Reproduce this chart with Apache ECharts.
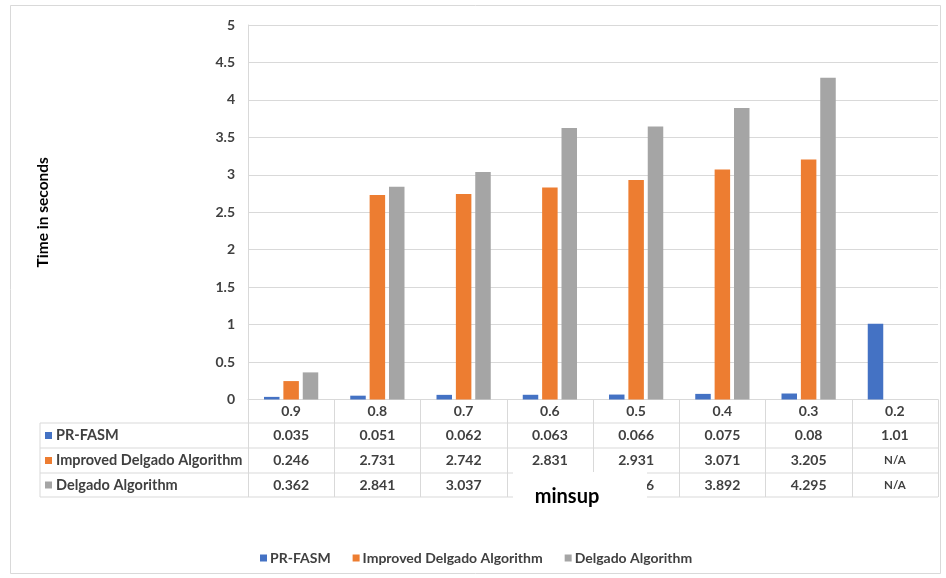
<!DOCTYPE html>
<html>
<head>
<meta charset="utf-8">
<script src="https://cdn.jsdelivr.net/npm/echarts@6/dist/echarts.min.js"></script>
<style>
  html, body { margin: 0; padding: 0; background: #fff; }
  #chart { width: 946px; height: 578px; }
</style>
</head>
<body>
<div id="chart"></div>
<script>
// Run time per minimum support threshold (seconds)
const categories = ['0.9', '0.8', '0.7', '0.6', '0.5', '0.4', '0.3', '0.2'];
const seriesNames = ['PR-FASM', 'Improved Delgado Algorithm', 'Delgado Algorithm'];
const prFasm = [0.035, 0.051, 0.062, 0.063, 0.066, 0.075, 0.08, 1.01];
const improvedDelgado = [0.246, 2.731, 2.742, 2.831, 2.931, 3.071, 3.205, null];
const delgado = [0.362, 2.841, 3.037, 3.624, 3.646, 3.892, 4.295, null];
const yMin = 0, yMax = 5, yStep = 0.5;

const colors = ['#4472C4', '#ED7D31', '#A5A5A5'];
const FONT = 'Lato, "Open Sans", sans-serif';
const LINE = '#D9D9D9';
const TEXT = '#404040';

// grid / table geometry
const G = { left: 248, top: 25, right: 938, bottom: 399.5 };
const rowY = [399.5, 423, 448, 473, 497];   // table row borders
const tableLeft = 40;

const chart = echarts.init(document.getElementById('chart'), null, { renderer: 'canvas' });
const allSeries = [prFasm, improvedDelgado, delgado];

chart.setOption({
  animation: false,
  backgroundColor: '#fff',
  color: colors,
  textStyle: { fontFamily: FONT },
  grid: { left: G.left, top: G.top, width: G.right - G.left, height: G.bottom - G.top, containLabel: false },
  legend: {
    data: seriesNames,
    left: 255, top: 546,
    itemWidth: 7, itemHeight: 7, itemGap: 22,
    icon: 'rect',
    textStyle: { fontFamily: FONT, fontSize: 14, fontWeight: 'bold', color: TEXT, padding: [0, 0, 0, -2] }
  },
  xAxis: {
    type: 'category',
    data: categories,
    axisLine: { show: true, lineStyle: { color: LINE, width: 1 } },
    axisTick: { show: true, interval: 0, length: rowY[4] - rowY[0], lineStyle: { color: LINE } },
    axisLabel: { interval: 0, margin: 5, fontFamily: FONT, fontSize: 14, fontWeight: 'bold', color: TEXT },
    splitLine: { show: false }
  },
  yAxis: {
    type: 'value',
    min: yMin, max: yMax, interval: yStep,
    name: 'Time in seconds',
    nameLocation: 'middle',
    nameGap: 197,
    nameTextStyle: { fontFamily: FONT, fontSize: 15.5, fontWeight: 'bold', color: '#000' },
    axisLine: { show: true, lineStyle: { color: LINE } },
    axisTick: { show: false },
    axisLabel: { margin: 13, fontFamily: FONT, fontSize: 14, fontWeight: 'bold', color: TEXT },
    splitLine: { show: true, lineStyle: { color: LINE, width: 1 } }
  },
  series: seriesNames.map((name, i) => ({
    name: name,
    type: 'bar',
    data: allSeries[i],
    barWidth: 15.5,
    barGap: '25%',
    itemStyle: { color: colors[i] }
  }))
});

// Data table under the x axis, built from the same arrays
const g = [];
const hline = (x1, x2, y) => ({ type: 'line', z: 5, shape: { x1, y1: y, x2, y2: y }, style: { stroke: LINE, lineWidth: 1 } });
const vline = (x, y1, y2) => ({ type: 'line', z: 5, shape: { x1: x, y1, x2: x, y2 }, style: { stroke: LINE, lineWidth: 1 } });

for (let r = 1; r < rowY.length; r++) g.push(hline(tableLeft, G.right, rowY[r]));
g.push(vline(tableLeft, rowY[1], rowY[4]));

seriesNames.forEach((name, i) => {
  const cy = (rowY[i + 1] + rowY[i + 2]) / 2;
  g.push({ type: 'rect', z: 6, shape: { x: 45, y: cy - 3.5, width: 7, height: 7 }, style: { fill: colors[i] } });
  g.push({
    type: 'text', z: 6,
    style: { text: name, x: 56, y: cy, align: 'left', verticalAlign: 'middle',
             fontFamily: FONT, fontSize: 14.5, fontWeight: 'bold', fill: TEXT }
  });
  categories.forEach((c, j) => {
    const cx = chart.convertToPixel({ xAxisIndex: 0 }, c);
    const v = allSeries[i][j];
    const na = v === null;
    g.push({
      type: 'text', z: 6,
      style: { text: na ? 'N/A' : String(v), x: cx, y: cy, align: 'center', verticalAlign: 'middle',
               fontFamily: FONT, fontSize: na ? 11.5 : 14, fontWeight: 'bold', fill: TEXT }
    });
  });
});

// x axis title on a white box
g.push({ type: 'rect', z: 20, shape: { x: 513, y: 472, width: 134, height: 50 }, style: { fill: '#fff' } });
g.push({
  type: 'text', z: 21,
  style: { text: 'minsup', x: 567, y: 497, align: 'center', verticalAlign: 'middle',
           fontFamily: FONT, fontSize: 20, fontWeight: 'bold', fill: '#000' }
});

// chart frame
g.push({ type: 'rect', z: 1, shape: { x: 10.5, y: 5.5, width: 930, height: 568 }, style: { fill: 'none', stroke: LINE, lineWidth: 1 } });

chart.setOption({ graphic: g });
</script>
</body>
</html>
